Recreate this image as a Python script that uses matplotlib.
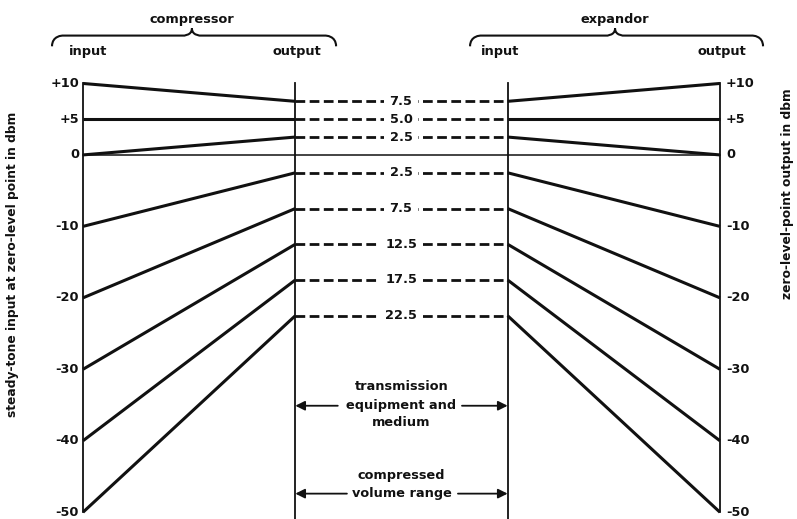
import numpy as np
import matplotlib.pyplot as plt
from matplotlib.path import Path
from matplotlib.patches import PathPatch

plt.rcParams["font.family"] = ["DejaVu Sans"]
plt.rcParams["font.weight"] = "bold"

# 各級位置：壓縮器輸入、壓縮器輸出、擴展器輸入、擴展器輸出
stages = [0, 1, 2, 3]

# 電平 (dbm)
input_levels = [10, 5, 0, -10, -20, -30, -40, -50]
compressed_levels = [7.5, 5.0, 2.5, -2.5, -7.5, -12.5, -17.5, -22.5]
compressed_labels = ["7.5", "5.0", "2.5", "2.5", "7.5", "12.5", "17.5", "22.5"]
tick_labels = ["+10", "+5", "0", "-10", "-20", "-30", "-40", "-50"]

ink = "#111111"
fs = 9.3

fig = plt.figure(figsize=(7.97, 5.19), dpi=100)
ax = fig.add_axes([0, 0, 1, 1])
ax.set_xlim(-0.391, 3.363)
ax.set_ylim(-50.95, 21.68)
ax.axis("off")

# 直線（各級）
for s in [stages[0], stages[3]]:
    ax.plot([s, s], [input_levels[0], input_levels[-1]], color=ink, lw=1.3)
for s in [stages[1], stages[2]]:
    ax.plot([s, s], [input_levels[0], -51], color=ink, lw=1.3)

# 0 dbm 參考線
ax.plot([stages[0], stages[3]], [0, 0], color=ink, lw=1.1)

# 壓縮與擴展
for lin, lc, lab in zip(input_levels, compressed_levels, compressed_labels):
    ax.plot([stages[0], stages[1]], [lin, lc], color=ink, lw=2.2, solid_capstyle="butt")
    ax.plot([stages[2], stages[3]], [lc, lin], color=ink, lw=2.2, solid_capstyle="butt")
    ax.plot([stages[1], stages[2]], [lc, lc], color=ink, lw=2.0, linestyle=(0, (3.5, 1.6)))
    ax.text(1.498, lc, lab, ha="center", va="center", fontsize=fs, color=ink,
            bbox=dict(facecolor="white", edgecolor="none", pad=4))

# 刻度標籤
for lin, t in zip(input_levels, tick_labels):
    ax.text(-0.019, lin, t, ha="right", va="center", fontsize=fs, color=ink)
    ax.text(3.029, lin, t, ha="left", va="center", fontsize=fs, color=ink)

ax.text(-0.334, -15.3, "steady-tone input at zero-level point in dbm", rotation=90,
        ha="center", va="center", fontsize=8.8, color=ink)
ax.text(3.316, -5.45, "zero-level-point output in dbm", rotation=90,
        ha="center", va="center", fontsize=8.8, color=ink)


# 大括號
def brace(x0, x1, xm, y):
    dy = 1.5
    verts = [(x0, y - dy), (x0, y), (x0 + 0.05, y), (x0 + 0.05, y),
             (xm - 0.04, y), (xm - 0.04, y), (xm, y), (xm, y + 1.0),
             (xm, y), (xm + 0.04, y), (xm + 0.04, y),
             (x1 - 0.05, y), (x1 - 0.05, y), (x1, y), (x1, y - dy)]
    codes = [Path.MOVETO, Path.CURVE4, Path.CURVE4, Path.CURVE4,
             Path.LINETO, Path.CURVE4, Path.CURVE4, Path.CURVE4,
             Path.CURVE4, Path.CURVE4, Path.CURVE4,
             Path.LINETO, Path.CURVE4, Path.CURVE4, Path.CURVE4]
    ax.add_patch(PathPatch(Path(verts, codes), facecolor="none", edgecolor=ink, lw=1.5))


brace(-0.146, 1.192, 0.513, 16.7)
brace(1.823, 3.203, 2.506, 16.7)

ax.text(0.513, 18.9, "compressor", ha="center", va="center", fontsize=fs, color=ink)
ax.text(2.506, 18.9, "expandor", ha="center", va="center", fontsize=fs, color=ink)
ax.text(0.024, 14.45, "input", ha="center", va="center", fontsize=fs, color=ink)
ax.text(1.008, 14.45, "output", ha="center", va="center", fontsize=fs, color=ink)
ax.text(1.964, 14.45, "input", ha="center", va="center", fontsize=fs, color=ink)
ax.text(3.01, 14.45, "output", ha="center", va="center", fontsize=fs, color=ink)

# 中間說明與箭頭
ax.text(1.5, -32.4, "transmission", ha="center", va="center", fontsize=fs, color=ink)
ax.text(1.5, -35.1, "equipment and", ha="center", va="center", fontsize=fs, color=ink)
ax.text(1.5, -37.4, "medium", ha="center", va="center", fontsize=fs, color=ink)
ax.text(1.5, -44.9, "compressed", ha="center", va="center", fontsize=fs, color=ink)
ax.text(1.5, -47.4, "volume range", ha="center", va="center", fontsize=fs, color=ink)

arrow = dict(arrowstyle="-|>", mutation_scale=14, lw=1.3, color=ink, shrinkA=0, shrinkB=0)
for y, xl, xr in [(-35.1, 1.20, 1.785), (-47.4, 1.243, 1.766)]:
    ax.annotate("", xy=(stages[1], y), xytext=(xl, y), arrowprops=arrow)
    ax.annotate("", xy=(stages[2], y), xytext=(xr, y), arrowprops=arrow)

fig.savefig("out.png", dpi=100, facecolor="white")
